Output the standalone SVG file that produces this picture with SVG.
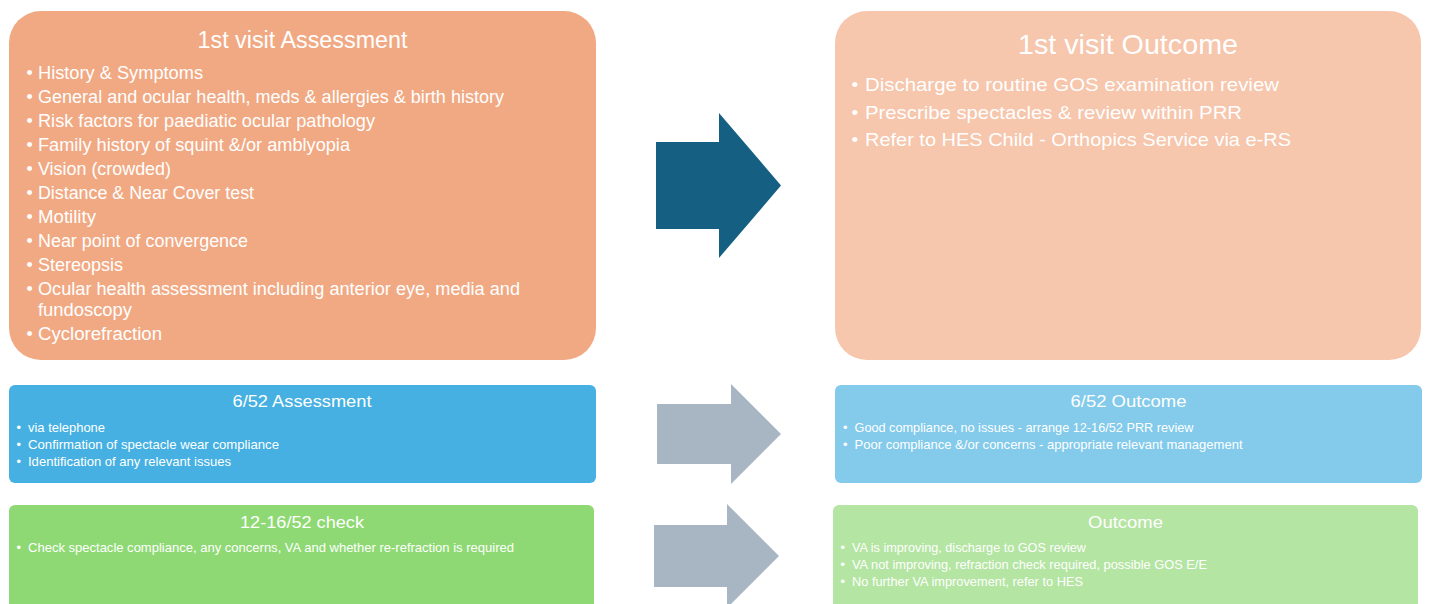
<svg xmlns="http://www.w3.org/2000/svg" width="1429" height="604" viewBox="0 0 1429 604">
<style>
.t{font-family:"Liberation Sans",Arial,sans-serif;fill:#ffffff}
.c{text-anchor:middle}
.b17{font-size:17.5px}
.b19{font-size:19px}
.b12{font-size:12.8px}
.h1{font-size:23px}
.h2{font-size:28.5px}
.h3{font-size:17px}
.big{fill:#156082}
.grey{fill:#A8B5C2}
</style>
<rect width="1429" height="604" fill="#ffffff"/>
<g id="connectors">
<polygon class="big" points="656,142 719,142 719,113 781,185.5 719,258 719,229 656,229"/>
<polygon class="grey" points="657,404 731,404 731,384 781,434 731,484 731,464 657,464"/>
<polygon class="grey" points="654,525 727,525 727,504 779,556 727,608 727,587 654,587"/>
</g>
<g id="visit1-assessment">
<rect x="9" y="11" width="587" height="349" rx="32" fill="#F1A983"/>
<text class="t c h1" x="302.5" y="47.5" textLength="210" lengthAdjust="spacingAndGlyphs">1st visit Assessment</text>
<g class="t b17">
<text x="26.5" y="79">•</text><text x="38" y="79" textLength="165" lengthAdjust="spacingAndGlyphs">History &amp; Symptoms</text>
<text x="26.5" y="103">•</text><text x="38" y="103" textLength="466" lengthAdjust="spacingAndGlyphs">General and ocular health, meds &amp; allergies &amp; birth history</text>
<text x="26.5" y="127">•</text><text x="38" y="127" textLength="337" lengthAdjust="spacingAndGlyphs">Risk factors for paediatic ocular pathology</text>
<text x="26.5" y="151">•</text><text x="38" y="151" textLength="312" lengthAdjust="spacingAndGlyphs">Family history of squint &amp;/or amblyopia</text>
<text x="26.5" y="175">•</text><text x="38" y="175" textLength="133" lengthAdjust="spacingAndGlyphs">Vision (crowded)</text>
<text x="26.5" y="199">•</text><text x="38" y="199" textLength="216" lengthAdjust="spacingAndGlyphs">Distance &amp; Near Cover test</text>
<text x="26.5" y="223">•</text><text x="38" y="223" textLength="58" lengthAdjust="spacingAndGlyphs">Motility</text>
<text x="26.5" y="247">•</text><text x="38" y="247" textLength="210" lengthAdjust="spacingAndGlyphs">Near point of convergence</text>
<text x="26.5" y="270.5">•</text><text x="38" y="270.5" textLength="85" lengthAdjust="spacingAndGlyphs">Stereopsis</text>
<text x="26.5" y="295">•</text><text x="38" y="295" textLength="482" lengthAdjust="spacingAndGlyphs">Ocular health assessment including anterior eye, media and</text>
<text x="38" y="315.5" textLength="94" lengthAdjust="spacingAndGlyphs">fundoscopy</text>
<text x="26.5" y="339.5">•</text><text x="38" y="339.5" textLength="124" lengthAdjust="spacingAndGlyphs">Cyclorefraction</text>
</g>
</g>
<g id="visit1-outcome">
<rect x="835" y="11" width="586" height="349" rx="32" fill="#F6C6AD"/>
<text class="t c h2" x="1128" y="53.5" textLength="220" lengthAdjust="spacingAndGlyphs">1st visit Outcome</text>
<g class="t b19">
<text x="851.5" y="91">•</text><text x="865" y="91" textLength="414" lengthAdjust="spacingAndGlyphs">Discharge to routine GOS examination review</text>
<text x="851.5" y="118.5">•</text><text x="865" y="118.5" textLength="377" lengthAdjust="spacingAndGlyphs">Prescribe spectacles &amp; review within PRR</text>
<text x="851.5" y="146">•</text><text x="865" y="146" textLength="426" lengthAdjust="spacingAndGlyphs">Refer to HES Child - Orthopics Service via e-RS</text>
</g>
</g>
<g id="week6-assessment">
<rect x="9" y="385" width="587" height="98" rx="6" fill="#45B0E1"/>
<text class="t c h3" x="302" y="407" textLength="139" lengthAdjust="spacingAndGlyphs">6/52 Assessment</text>
<g class="t b12">
<text x="16.5" y="431.5">•</text><text x="28" y="431.5" textLength="77" lengthAdjust="spacingAndGlyphs">via telephone</text>
<text x="16.5" y="448.5">•</text><text x="28" y="448.5" textLength="251" lengthAdjust="spacingAndGlyphs">Confirmation of spectacle wear compliance</text>
<text x="16.5" y="466">•</text><text x="28" y="466" textLength="203" lengthAdjust="spacingAndGlyphs">Identification of any relevant issues</text>
</g>
</g>
<g id="week6-outcome">
<rect x="835" y="385" width="587" height="98" rx="6" fill="#83CAEB"/>
<text class="t c h3" x="1128.5" y="407" textLength="116" lengthAdjust="spacingAndGlyphs">6/52 Outcome</text>
<g class="t b12">
<text x="843" y="431.5">•</text><text x="854.5" y="431.5" textLength="339" lengthAdjust="spacingAndGlyphs">Good compliance, no issues - arrange 12-16/52 PRR review</text>
<text x="843" y="448.5">•</text><text x="854.5" y="448.5" textLength="388" lengthAdjust="spacingAndGlyphs">Poor compliance &amp;/or concerns - appropriate relevant management</text>
</g>
</g>
<g id="week12-check">
<rect x="9" y="505" width="585" height="110" rx="6" fill="#8ED973"/>
<text class="t c h3" x="302" y="528" textLength="124" lengthAdjust="spacingAndGlyphs">12-16/52 check</text>
<g class="t b12">
<text x="16.5" y="551.5">•</text><text x="28" y="551.5" textLength="486" lengthAdjust="spacingAndGlyphs">Check spectacle compliance, any concerns, VA and whether re-refraction is required</text>
</g>
</g>
<g id="final-outcome">
<rect x="833" y="505" width="585" height="110" rx="6" fill="#B4E5A2"/>
<text class="t c h3" x="1125.5" y="528" textLength="75" lengthAdjust="spacingAndGlyphs">Outcome</text>
<g class="t b12">
<text x="840.5" y="551.5">•</text><text x="852" y="551.5" textLength="234" lengthAdjust="spacingAndGlyphs">VA is improving, discharge to GOS review</text>
<text x="840.5" y="568.5">•</text><text x="852" y="568.5" textLength="355" lengthAdjust="spacingAndGlyphs">VA not improving, refraction check required, possible GOS E/E</text>
<text x="840.5" y="586">•</text><text x="852" y="586" textLength="231" lengthAdjust="spacingAndGlyphs">No further VA improvement, refer to HES</text>
</g>
</g>
</svg>
